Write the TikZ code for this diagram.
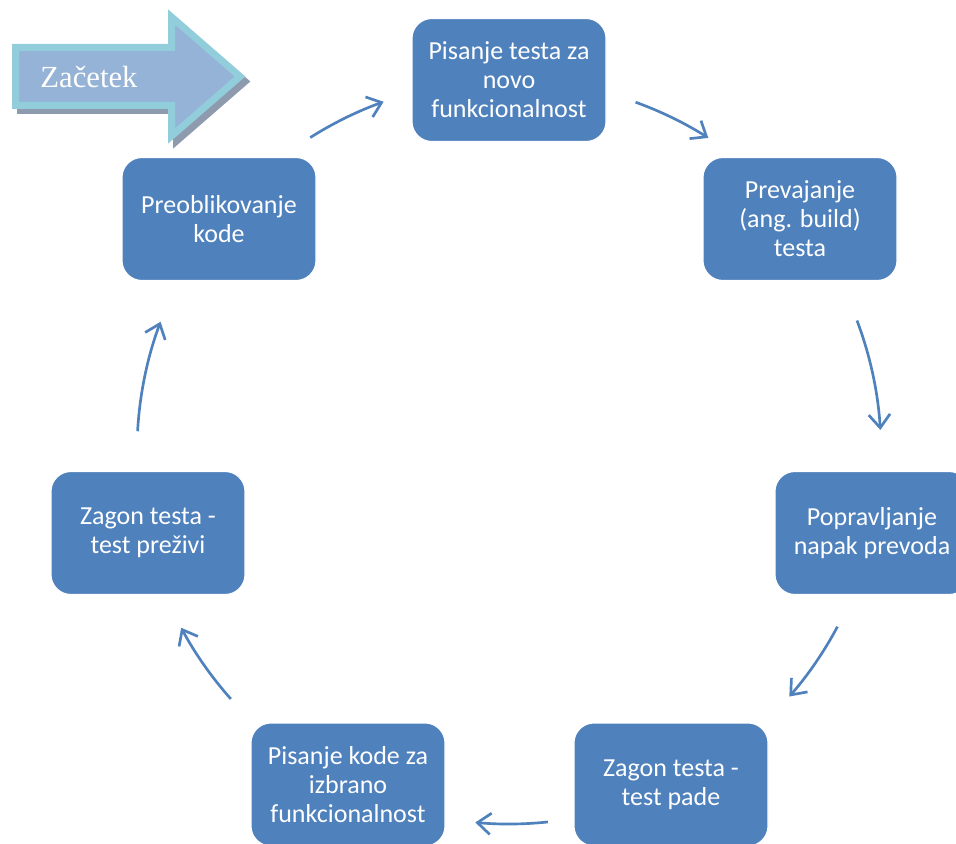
\documentclass[tikz,border=0pt]{standalone}
\usepackage{fontspec}
\setmainfont{Carlito}
\newfontfamily\serifface{Liberation Serif}
\usetikzlibrary{arrows.meta}
\definecolor{boxblue}{HTML}{4F81BD}
\definecolor{startfill}{HTML}{95B3D7}
\definecolor{startedge}{HTML}{92CDDC}
\definecolor{startshadow}{HTML}{8E9AAE}
\begin{document}
\begin{tikzpicture}[x=0.75pt,y=0.75pt,
  stepbox/.style={rectangle, rounded corners=15pt, fill=boxblue, draw=white,
    line width=0.8pt, minimum width=145.5pt, minimum height=92.25pt,
    text=white, align=center, inner sep=0pt,
    font=\fontsize{19.5}{21.75}\selectfont},
  flow/.style={draw=boxblue, line width=2pt,
    -{Straight Barb[length=10pt,width=16pt,line width=2pt]}},
  startarrow/.style={line width=5.25pt, line join=miter}]
\useasboundingbox (0,0) rectangle (956,843);

% start arrow: shadow, then the arrow itself
\begin{scope}[shift={(5,-5)}]
  \draw[startarrow, draw=startshadow, fill=startshadow]
    (15.5,795.5) -- (171.5,795.5) -- (171.5,826) -- (240,766.5)
    -- (171.5,707) -- (171.5,737.5) -- (15.5,737.5) -- cycle;
\end{scope}
\draw[startarrow, draw=startedge, fill=startfill]
  (15.5,795.5) -- (171.5,795.5) -- (171.5,826) -- (240,766.5)
  -- (171.5,707) -- (171.5,737.5) -- (15.5,737.5) -- cycle;
\node[anchor=base, text=white, inner sep=0pt,
  font=\serifface\fontsize{23}{27}\selectfont] (start) at (89,755) {Začetek};

% process steps around the cycle
\node[stepbox] (write)   at (509,763) {Pisanje testa za\\novo\\funkcionalnost};
\node[stepbox] (build)   at (800,624) {Prevajanje\\(ang. build)\\testa};
\node[stepbox] (fix)     at (872,310) {Popravljanje\\napak prevoda};
\node[stepbox] (fail)    at (671,58.5) {Zagon testa -\\test pade};
\node[stepbox] (code)    at (348,58.5) {Pisanje kode za\\izbrano\\funkcionalnost};
\node[stepbox] (pass)    at (148,310) {Zagon testa -\\test preživi};
\node[stepbox] (refactor) at (219,624) {Preoblikovanje\\kode};

% curved connectors, arcs of one circle around the cycle centre
\coordinate (C) at (509,391);
\path (C) ++(122.3:372) coordinate (a1);
\path (C) ++(70.1:372)  coordinate (a2);
\path (C) ++(20.7:372)  coordinate (a3);
\path (C) ++(-28:372)   coordinate (a4);
\path (C) ++(-84:372)   coordinate (a5);
\path (C) ++(-138.4:372) coordinate (a6);
\path (C) ++(176.8:372) coordinate (a7);
\draw[flow] (a1) arc[start angle=122.3, end angle=109.7, radius=372];
\draw[flow] (a2) arc[start angle=70.1,  end angle=57.6,  radius=372];
\draw[flow] (a3) arc[start angle=20.7,  end angle=3.4,   radius=372];
\draw[flow] (a4) arc[start angle=-28,   end angle=-41.1, radius=372];
\draw[flow] (a5) arc[start angle=-84,   end angle=-95.2, radius=372];
\draw[flow] (a6) arc[start angle=-138.4,end angle=-151.8,radius=372];
\draw[flow] (a7) arc[start angle=176.8, end angle=159.5, radius=372];
\end{tikzpicture}
\end{document}
